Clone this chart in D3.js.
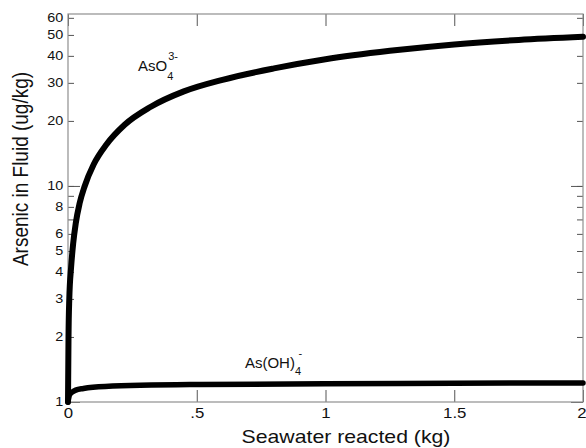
<!DOCTYPE html>
<html>
<head>
<meta charset="utf-8">
<script src="https://cdn.jsdelivr.net/npm/d3@7"></script>
<style>
  body { margin: 0; background: #fff; }
  text { font-family: "Liberation Sans", Arial, sans-serif; fill: #111; }
</style>
</head>
<body>
<div id="chart"></div>
<script>
// seawater reacted (kg)
const asoX = [0, 0.002, 0.005, 0.012, 0.02, 0.03, 0.045, 0.065, 0.1, 0.15, 0.22, 0.32, 0.45, 0.6, 0.8, 1.0, 1.25, 1.5, 1.75, 2];
// AsO4 3- (ug/kg)
const asoY = [1, 2, 3, 4.2, 5.4, 6.7, 8.3, 10, 12.6, 15.6, 19.2, 23.2, 27.4, 31, 35, 38.6, 42.2, 45.2, 47.4, 49];

const ohX = [0, 0.006, 0.016, 0.03, 0.06, 0.144, 0.51, 1, 1.5, 2];
// As(OH)4 - (ug/kg)
const ohY = [1, 1.08, 1.11, 1.135, 1.155, 1.18, 1.205, 1.215, 1.222, 1.226];

const xTicks = [0, 0.5, 1, 1.5, 2];
const xTickLabels = ["0", ".5", "1", "1.5", "2"];
const yTicks = [1, 2, 3, 4, 5, 6, 7, 8, 9, 10, 20, 30, 40, 50, 60];
const yTickLabels = ["1", "2", "3", "4", "5", "6", "", "8", "", "10", "20", "30", "40", "50", "60"];
const yMajor = [1, 10];

const width = 586,
      height = 448;
const frame = { left: 68, right: 583, top: 14, bottom: 402 };
const stretch = "scale(1.2,1)";

let x = d3.scaleLinear().domain([0, 2]).range([frame.left, frame.right]),
    y = d3.scaleLog().domain([1, 62.5]).range([frame.bottom, frame.top]);

const svg = d3.select("#chart")
  .append("svg")
  .attr("width", width)
  .attr("height", height);

// axes, ticks pointing inward
const lblX = d3.scaleOrdinal(xTicks, xTickLabels),
      lblY = d3.scaleOrdinal(yTicks, yTickLabels);

function styleAxis(g) {
  g.select(".domain").remove();
  g.selectAll(".tick line").attr("stroke", "#555");
}

svg.append("g")
  .attr("transform", "translate(0," + frame.bottom + ")")
  .call(d3.axisBottom(x).tickValues(xTicks).tickSize(-12).tickPadding(6).tickFormat(lblX))
  .call(styleAxis)
  .call(g => g.selectAll("text").style("font-size", "14px").attr("transform", stretch))
  .call(g => g.selectAll(".tick:last-of-type text").attr("text-anchor", "end").attr("x", 2.5));

svg.append("g")
  .attr("transform", "translate(0," + frame.top + ")")
  .call(d3.axisTop(x).tickValues(xTicks).tickSize(-12).tickFormat(""))
  .call(styleAxis);

svg.append("g")
  .attr("transform", "translate(" + frame.left + ",0)")
  .call(d3.axisLeft(y).tickValues(yTicks).tickSize(-6).tickPadding(4).tickFormat(lblY))
  .call(styleAxis)
  .call(g => g.selectAll("text").style("font-size", "12px").attr("transform", stretch));

svg.append("g")
  .attr("transform", "translate(" + frame.left + ",0)")
  .call(d3.axisLeft(y).tickValues(yMajor).tickSize(-12).tickFormat(""))
  .call(styleAxis);

svg.append("g")
  .attr("transform", "translate(" + frame.right + ",0)")
  .call(d3.axisRight(y).tickValues(yTicks).tickSize(-6).tickFormat(""))
  .call(styleAxis);

svg.append("g")
  .attr("transform", "translate(" + frame.right + ",0)")
  .call(d3.axisRight(y).tickValues(yMajor).tickSize(-12).tickFormat(""))
  .call(styleAxis);

// frame
svg.append("rect")
  .attr("x", frame.left)
  .attr("y", frame.top)
  .attr("width", frame.right - frame.left)
  .attr("height", frame.bottom - frame.top)
  .attr("fill", "none")
  .attr("stroke", "#8f8f8f")
  .attr("stroke-width", 1.2);

// curves
const line = d3.line()
  .x(d => x(d[0]))
  .y(d => y(d[1]))
  .curve(d3.curveMonotoneX);

svg.append("path")
  .datum(asoX.map((v, i) => [v, asoY[i]]))
  .attr("d", line)
  .attr("fill", "none")
  .attr("stroke", "#000")
  .attr("stroke-width", 6)
  .attr("stroke-linecap", "round");

svg.append("path")
  .datum(ohX.map((v, i) => [v, ohY[i]]))
  .attr("d", line)
  .attr("fill", "none")
  .attr("stroke", "#000")
  .attr("stroke-width", 5.5)
  .attr("stroke-linecap", "round");

// species labels
const t1 = svg.append("text").attr("x", x(0.272)).attr("y", y(34)).style("font-size", "15px");
t1.append("tspan").text("AsO");
t1.append("tspan").text("4").attr("dy", 9).style("font-size", "11px");
t1.append("tspan").text("3-").attr("x", x(0.389)).attr("dy", -20).style("font-size", "11px");

const t2 = svg.append("text").attr("x", x(0.687)).attr("y", y(1.437)).style("font-size", "15px");
t2.append("tspan").text("As(OH)");
t2.append("tspan").text("4").attr("dy", 7).style("font-size", "11px");
t2.append("tspan").text("-").attr("x", x(0.895)).attr("dy", -18).style("font-size", "11px");

// axis titles
svg.append("text")
  .text("Seawater reacted (kg)")
  .attr("text-anchor", "middle")
  .attr("transform", "translate(346,443) scale(1.18,1)")
  .style("font-size", "18px");

svg.append("text")
  .text("Arsenic in Fluid (ug/kg)")
  .attr("text-anchor", "middle")
  .attr("transform", "translate(28,169) scale(1.2,1) rotate(-90)")
  .style("font-size", "19px");
</script>
</body>
</html>
